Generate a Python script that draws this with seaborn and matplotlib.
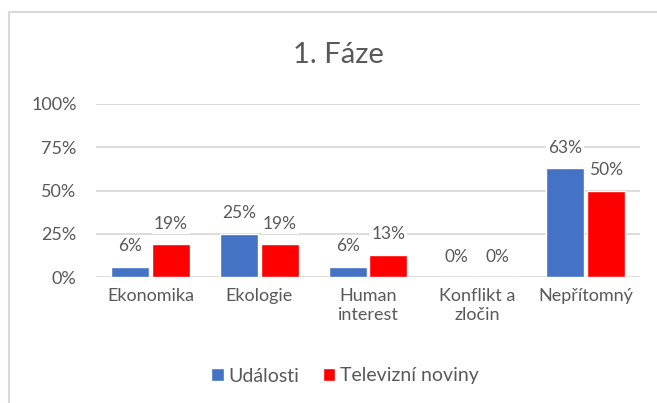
import pandas as pd
import matplotlib.pyplot as plt
import seaborn as sns
from matplotlib.patches import Rectangle, Patch
from matplotlib.ticker import FuncFormatter

# Data
kategorie = ["Ekonomika", "Ekologie", "Human interest", "Konflikt a zločin", "Nepřítomný"]
popisky = ["Ekonomika", "Ekologie", "Human\ninterest", "Konflikt a\nzločin", "Nepřítomný"]
udalosti = [6, 25, 6, 0, 63]
televizni_noviny = [19, 19, 13, 0, 50]
serie = ["Události", "Televizní noviny"]
barvy = ["#4472C4", "#FF0000"]

df = pd.DataFrame({
    "Kategorie": kategorie * 2,
    "Hodnota": udalosti + televizni_noviny,
    "Série": [serie[0]] * len(kategorie) + [serie[1]] * len(kategorie),
})

sns.set_theme(style="white")
plt.rcParams["font.family"] = ["Lato", "DejaVu Sans"]
seda = "#595959"

fig = plt.figure(figsize=(6.57, 4.03), dpi=100)
ax = fig.add_axes([96 / 657, 1 - 277 / 403, 544 / 657, 173 / 403])

sns.barplot(data=df, x="Kategorie", y="Hodnota", hue="Série",
            palette=barvy, saturation=1, width=0.75, gap=0.07, ax=ax, legend=False)

ax.set_ylim(0, 100)
ax.set_yticks([0, 25, 50, 75, 100])
ax.yaxis.set_major_formatter(FuncFormatter(lambda v, p: f"{v:.0f}%"))
ax.set_xticks(range(len(kategorie)))
ax.set_xticklabels(popisky)
ax.set_xlabel("")
ax.set_ylabel("")
ax.tick_params(axis="y", labelsize=13, labelcolor=seda, pad=14, length=0)
ax.tick_params(axis="x", labelsize=13, labelcolor=seda, pad=8, length=0)
ax.yaxis.grid(True, color="#D9D9D9", linewidth=1.3)
ax.set_axisbelow(True)
for s in ax.spines.values():
    s.set_visible(False)

# Popisky hodnot
for cont in ax.containers:
    hodnoty = [b.get_height() for b in cont]
    ax.bar_label(cont, labels=[f"{v:.0f}%" for v in hodnoty], padding=9,
                 fontsize=12.5, color=seda,
                 bbox=dict(facecolor="white", edgecolor="none", pad=1.5))

fig.text(338 / 657, 1 - 55 / 403, "1. Fáze", ha="center", va="center",
         fontsize=21, color=seda)

handles = [Patch(facecolor=c, label=s) for c, s in zip(barvy, serie)]
fig.legend(handles=handles, loc="center", bbox_to_anchor=(345 / 657, 1 - 376 / 403),
           ncol=2, frameon=False, fontsize=14, labelcolor=seda,
           handlelength=0.65, handleheight=0.65, handletextpad=0.25, columnspacing=1.2)

# Rámeček grafu
fig.patches.append(Rectangle((9 / 657, -0.05), 1.1, 1 - 12 / 403 + 0.05,
                             transform=fig.transFigure, fill=False,
                             edgecolor="#D9D9D9", linewidth=1.5))

fig.savefig("out.png", dpi=100)
